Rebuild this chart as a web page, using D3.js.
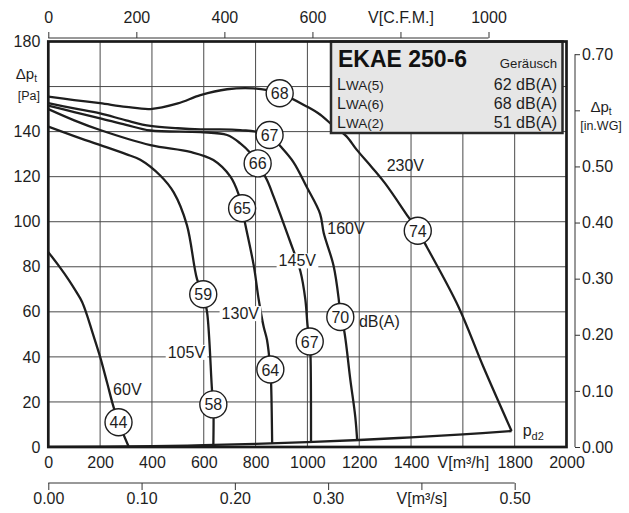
<!DOCTYPE html>
<html><head><meta charset="utf-8">
<script src="https://cdn.jsdelivr.net/npm/d3@7"></script>
<style>
html,body{margin:0;padding:0;background:#fff;}
svg{display:block;font-family:"Liberation Sans",Arial,sans-serif;}
</style></head>
<body><svg id="c" width="629" height="513"></svg>
<script>
// ---------- data ----------
const flowTicks = [0,200,400,600,800,1000,1200,1400,1600,1800,2000];
const flowTickLabels = ["0","200","400","600","800","1000","1200","1400","V[m³/h]","1800","2000"];
const pressureTicks = [0,20,40,60,80,100,120,140,160,180];
const cfmTicks = [0,200,400,600,800,1000];
const cfmTickLabels = ["0","200","400","600","V[C.F.M.]","1000"];
const m3sTicks = [0,0.1,0.2,0.3,0.4,0.5];
const m3sTickLabels = ["0.00","0.10","0.20","0.30","V[m³/s]","0.50"];
const inwgTicks = [0,0.1,0.2,0.3,0.4,0.5,0.6,0.7];
const inwgTickLabels = ["0.00","0.10","0.20","0.30","0.40","0.50","","0.70"];

const curve230V = [[0,155.5],[100,154],[200,152.6],[300,151],[394,150],[500,152.5],[587,156.2],[690,158.8],[791,159.2],[893,157],[1000,151],[1050,147.5],[1100,142.5],[1150,138],[1190,132],[1250,124],[1300,117],[1390,102],[1426,96],[1460,89],[1583,62.3],[1679,35.6],[1788,7.1]];
const curve160V = [[0,152.6],[100,150.3],[200,148.1],[300,145],[394,142.5],[500,141.5],[587,141],[741,140.7],[854,138.5],[896,133.5],[946,126.5],[997,115.5],[1049,103.5],[1063,95],[1101,80.5],[1121,65.5],[1127,57.7],[1140,52.8],[1166,29.6],[1185,13.2],[1192,3.1]];
const curve145V = [[0,151.5],[100,148.7],[200,145.9],[300,143],[394,140.5],[587,139.8],[690,138.5],[741,134.8],[780,130.5],[808,125.9],[844,118.5],[870,111],[896,103],[934,91],[973,78],[992,65.5],[1001,53.5],[1009,46.8],[1012,40.8],[1014,2.2]];
const curve130V = [[0,150],[100,145],[200,140.7],[394,134],[548,131],[637,127.4],[703,120],[735,112],[748,106],[760,99],[793,80.5],[812,65.5],[831,53.5],[844,47.6],[857,34.4],[860,28],[864,1.6]];
const curve105V = [[0,142.2],[100,138],[201,134],[300,130],[355,127.5],[432,120.5],[484,113],[535,98.5],[574,74.5],[598,67.8],[613,59.7],[632,25],[637,18.9],[637,0.9]];
const curve60V = [[0,86.5],[40,80.5],[80,74],[110,68.5],[130,64.5],[148,59],[170,51],[200,40],[227,28.5],[250,18.5],[271,11],[310,0.2]];
const curvePd2 = [[0,0],[400,0.35],[600,0.8],[800,1.4],[1000,2.2],[1200,3.1],[1400,4.3],[1600,5.6],[1788,7.1]];
const curves = [curve230V,curve160V,curve145V,curve130V,curve105V,curve60V,curvePd2];

const noiseFlow = [893,854,808,748,598,271,1426,1127,1009,857,637];
const noisePressure = [157,138.5,125.9,106,67.8,11,96,57.7,46.8,34.4,18.9];
const noiseText = ["68","67","66","65","59","44","74","70","67","64","58"];

const voltText = ["230V","160V","145V","130V","105V","60V"];
const voltFlow = [1378,1149,961,741,533,305];
const voltPressure = [125,97,82.6,59.2,42,25.6];
const voltBoxed = [false,false,true,true,true,false];

const legendTitle = "EKAE 250-6";
const legendHeader = "Geräusch";
const legendKeys = ["(5)","(6)","(2)"];
const legendValues = ["62 dB(A)","68 dB(A)","51 dB(A)"];

// ---------- scales ----------
const svg = d3.select("#c");
const L = 48.3, R = 566.5, T = 41.5, B = 447;
const x = d3.scaleLinear().domain([0,2000]).range([L,R]);
const y = d3.scaleLinear().domain([0,180]).range([B,T]);
const xCfm = d3.scaleLinear().domain([0,2000/1.699]).range([L,R]);
const xM3s = d3.scaleLinear().domain([0,2000/3600]).range([L,R]);
const yIn = d3.scaleLinear().domain([0,180/249.09]).range([B,T]);
const ink = "#1e1e1e";

// grid
const g = svg.append("g");
g.selectAll("line.v").data(flowTicks.slice(1,-1)).join("line")
  .attr("x1",d=>x(d)).attr("x2",d=>x(d)).attr("y1",T).attr("y2",B)
  .attr("stroke","#4a4a4a").attr("stroke-width",1);
g.selectAll("line.h").data(pressureTicks.slice(1,-1)).join("line")
  .attr("x1",L).attr("x2",R).attr("y1",d=>y(d)).attr("y2",d=>y(d))
  .attr("stroke","#4a4a4a").attr("stroke-width",1);

// curves
svg.append("clipPath").attr("id","clip").append("rect").attr("x",L).attr("y",T).attr("width",R-L).attr("height",B-T);
const line = d3.line().x(d=>x(d[0])).y(d=>y(d[1])).curve(d3.curveCatmullRom.alpha(0.5));
svg.append("g").attr("clip-path","url(#clip)").selectAll("path").data(curves).join("path")
  .attr("d",line).attr("fill","none").attr("stroke",ink).attr("stroke-width",2.3).attr("stroke-linejoin","round");

// voltage labels
const vl = svg.append("g").attr("font-size",16).attr("fill",ink);
voltText.forEach((t,i)=>{
  const gx = x(voltFlow[i]), gy = y(voltPressure[i]);
  const txt = vl.append("text").attr("x",gx).attr("y",gy).attr("text-anchor","middle").attr("dominant-baseline","central").text(t);
  if (voltBoxed[i]) {
    const bb = txt.node().getBBox();
    vl.insert("rect","text").attr("x",bb.x-2).attr("y",bb.y+1).attr("width",bb.width+4).attr("height",bb.height-2).attr("fill","#fff");
  }
});
svg.append("text").attr("x",x(1199)).attr("y",y(55.5)).attr("dominant-baseline","central")
  .attr("font-size",16).attr("fill",ink).text("dB(A)");

// circles
const cg = svg.append("g");
noiseText.forEach((t,i)=>{
  const cx = x(noiseFlow[i]), cy = y(noisePressure[i]);
  cg.append("circle").attr("cx",cx).attr("cy",cy).attr("r",13.5).attr("fill","#fff").attr("stroke",ink).attr("stroke-width",1.4);
  cg.append("text").attr("x",cx).attr("y",cy+0.5).attr("text-anchor","middle").attr("dominant-baseline","central")
    .attr("font-size",16).attr("fill",ink).text(t);
});

// pd2 label
const pd = svg.append("text").attr("x",x(1800)+8).attr("y",y(7)+5).attr("font-size",16).attr("fill",ink);
pd.append("tspan").text("p");
pd.append("tspan").attr("font-size",11).attr("dy",4).text("d2");

// legend
const lx = 331, ly = T, lw = 562.5-331, lh = 133-T;
svg.append("rect").attr("x",lx).attr("y",ly).attr("width",lw).attr("height",lh).attr("fill","#e6e6e6").attr("stroke","#2a2a2a").attr("stroke-width",2.5);
svg.append("text").attr("x",338).attr("y",67).attr("font-size",23).attr("font-weight","bold").attr("fill","#111").text(legendTitle);
svg.append("text").attr("x",557).attr("y",67.5).attr("text-anchor","end").attr("font-size",13.2).attr("fill",ink).text(legendHeader);
legendKeys.forEach((k,i)=>{
  const by = 89.5 + i*19;
  const t = svg.append("text").attr("x",337).attr("y",by).attr("fill",ink);
  t.append("tspan").attr("font-size",16).text("L");
  t.append("tspan").attr("font-size",13.5).text("WA"+k);
  svg.append("text").attr("x",557).attr("y",by).attr("text-anchor","end").attr("font-size",16).attr("fill",ink).text(legendValues[i]);
});

// frame
svg.append("rect").attr("x",L).attr("y",T).attr("width",R-L).attr("height",B-T).attr("fill","none").attr("stroke","#1a1a1a").attr("stroke-width",2.7);

// left axis
const ax = svg.append("g").attr("transform",`translate(${L},0)`)
  .call(d3.axisLeft(y).tickValues(pressureTicks).tickSize(0).tickPadding(8).tickFormat(d=>d===160?"":d));
ax.select(".domain").remove();
ax.selectAll("text").attr("font-size",16).attr("fill",ink).attr("font-family",null);
const dl = svg.append("text").attr("x",37).attr("y",79).attr("text-anchor","end").attr("font-size",15).attr("fill",ink);
dl.append("tspan").text("Δp"); dl.append("tspan").attr("font-size",10).attr("dy",3).text("t");
svg.append("text").attr("x",40).attr("y",100).attr("text-anchor","end").attr("font-size",12.5).attr("fill",ink).text("[Pa]");

// bottom m3/h labels
const bx = svg.append("g").attr("transform",`translate(0,${B})`)
  .call(d3.axisBottom(x).tickValues(flowTicks).tickSize(0).tickPadding(10).tickFormat((d,i)=>flowTickLabels[i]));
bx.select(".domain").remove();
bx.selectAll("text").attr("font-size",16).attr("fill",ink).attr("font-family",null);

// top cfm axis
const tx = svg.append("g").attr("transform","translate(0,38)")
  .call(d3.axisTop(xCfm).tickValues(cfmTicks).tickSize(6).tickPadding(9).tickFormat((d,i)=>cfmTickLabels[i]));
tx.select(".domain").remove();
tx.append("line").attr("x1",xCfm(0)).attr("x2",xCfm(1000)).attr("stroke",ink);
tx.selectAll("line").attr("stroke","#333");
tx.selectAll("text").attr("font-size",16).attr("fill",ink).attr("font-family",null);

// bottom m3/s axis
const sx = svg.append("g").attr("transform","translate(0,483)")
  .call(d3.axisBottom(xM3s).tickValues(m3sTicks).tickSize(7).tickPadding(3).tickFormat((d,i)=>m3sTickLabels[i]));
sx.select(".domain").remove();
sx.append("line").attr("x1",xM3s(0)).attr("x2",xM3s(0.5)).attr("stroke","#333");
sx.selectAll("line").attr("stroke","#333");
sx.selectAll("text").attr("font-size",16).attr("fill",ink).attr("font-family",null);

// right in.WG axis
const rx = svg.append("g").attr("transform","translate(575,0)")
  .call(d3.axisRight(yIn).tickValues(inwgTicks).tickSize(5).tickPadding(2).tickFormat((d,i)=>inwgTickLabels[i]));
rx.select(".domain").remove();
rx.append("line").attr("y1",yIn(0)).attr("y2",yIn(0.7)).attr("stroke","#333");
rx.selectAll("line").attr("stroke","#333");
rx.selectAll("text").attr("font-size",16).attr("fill",ink).attr("font-family",null);
const dr = svg.append("text").attr("x",601).attr("y",yIn(0.6)+2).attr("text-anchor","middle").attr("font-size",15).attr("fill",ink);
dr.append("tspan").text("Δp"); dr.append("tspan").attr("font-size",10).attr("dy",3).text("t");
svg.append("text").attr("x",601).attr("y",yIn(0.6)+20).attr("text-anchor","middle").attr("font-size",12.5).attr("fill",ink).text("[in.WG]");
</script></body></html>
